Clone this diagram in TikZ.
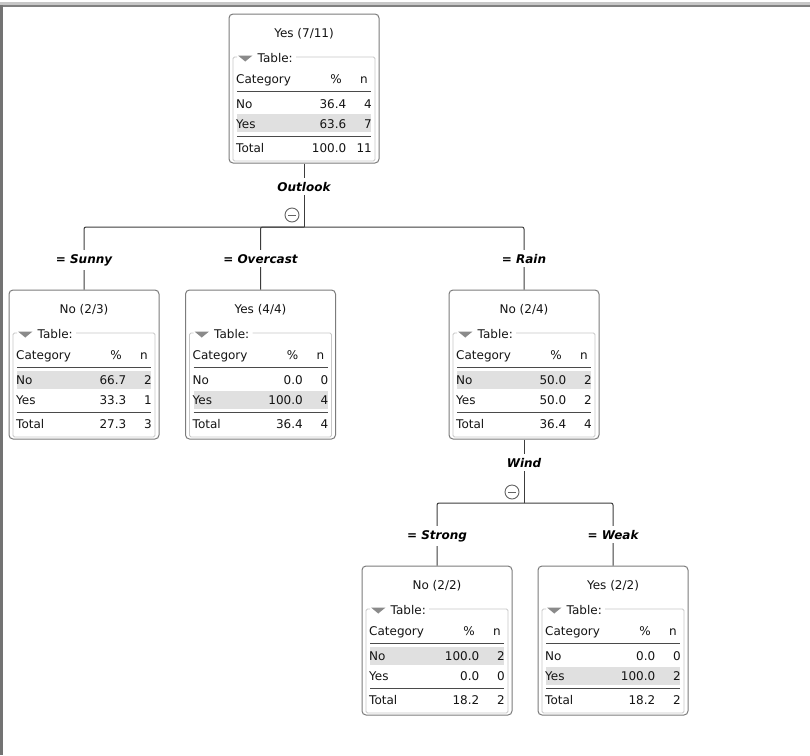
\documentclass[tikz,border=0pt]{standalone}
\usepackage{fontspec}
\setmainfont{DejaVu Sans}
\definecolor{boxgray}{HTML}{7C7C7C}
\definecolor{grpgray}{HTML}{C8C8C8}
\definecolor{hlgray}{HTML}{E0E0E0}
\definecolor{rulegray}{HTML}{4A4A4A}
\definecolor{linkgray}{HTML}{3C3C3C}
\definecolor{txtcol}{HTML}{141414}
\definecolor{trigray}{HTML}{8A8A8A}

% one decision-tree node: name, top-left corner, title, top of the shaded row,
% No %/n, Yes %/n, {Total %}{Total n}
\newcommand\dttot[2]{%
  \node[txt,anchor=base west] at (7,138) {Total};
  \node[txt,anchor=base east] at (117.5,138) {#1};
  \node[txt,anchor=base east] at (143,138) {#2};}
\newcommand\dtnode[9]{%
  \begin{scope}[shift={(#2)}]
    \node[box] (#1) at (75,74.5) {};
    \fill[hlgray] (8,#4) rectangle (142,#4+18);
    \node[txt,anchor=base] at (75,23) {#3};
    \draw[grp] (8,43) -- (4,43) -- (4,147) -- (146,147) -- (146,43) -- (67,43);
    \fill[trigray] (9,41.5) -- (23.5,41.5) -- (16.25,47.5) -- cycle;
    \node[txt,anchor=base west] at (28.5,48.5) {Table:};
    \node[txt,anchor=base west] at (7,69) {Category};
    \node[txt,anchor=base] at (107,69) {\%};
    \node[txt,anchor=base] at (135,69) {n};
    \draw[rulel] (8,77) -- (142,77);
    \node[txt,anchor=base west] at (7,94) {No};
    \node[txt,anchor=base east] at (117.5,94) {#5};
    \node[txt,anchor=base east] at (143,94) {#6};
    \node[txt,anchor=base west] at (7,114) {Yes};
    \node[txt,anchor=base east] at (117.5,114) {#7};
    \node[txt,anchor=base east] at (143,114) {#8};
    \draw[rulel] (8,122) -- (142,122);
    \dttot#9
  \end{scope}}

\begin{document}
\begin{tikzpicture}[x=1pt,y=-1pt,
  font=\fontsize{12}{14}\selectfont,
  box/.style={draw=boxgray,line width=1pt,rounded corners=4pt,fill=white,
    minimum width=150pt,minimum height=149pt,inner sep=0pt},
  txt/.style={inner sep=0pt,text=txtcol},
  grp/.style={draw=grpgray,line width=0.9pt,rounded corners=1.5pt},
  rulel/.style={draw=rulegray,line width=1pt},
  link/.style={draw=linkgray,line width=1pt,rounded corners=2pt},
  lab/.style={fill=white,inner xsep=2pt,inner ysep=4pt,text=black,
    font=\fontsize{12}{14}\selectfont\bfseries\itshape},
  fold/.style={draw=linkgray!80,line width=0.9pt,circle,minimum size=14pt,inner sep=0pt}]

\useasboundingbox (0,0) rectangle (810,755);
\fill[white] (0,0) rectangle (810,755);

% window frame
\fill[black!22] (0,2) rectangle (810,5);
\fill[black!50] (0,5) rectangle (810,7);
\fill[black!55] (0,5) rectangle (2.6,755);

% tree nodes
\dtnode{root}{229,14}{Yes (7/11)}{100}{36.4}{4}{63.6}{7}{{100.0}{11}}
\dtnode{sunny}{9,290}{No (2/3)}{81}{66.7}{2}{33.3}{1}{{27.3}{3}}
\dtnode{overcast}{185.5,290}{Yes (4/4)}{101}{0.0}{0}{100.0}{4}{{36.4}{4}}
\dtnode{rain}{449,290}{No (2/4)}{81}{50.0}{2}{50.0}{2}{{36.4}{4}}
\dtnode{strong}{362,566}{No (2/2)}{81}{100.0}{2}{0.0}{0}{{18.2}{2}}
\dtnode{weak}{538,566}{Yes (2/2)}{101}{0.0}{0}{100.0}{2}{{18.2}{2}}

% split on Outlook
\coordinate (j1) at (304,227);
\draw[link] (root.south) -- (j1);
\draw[link] (j1) -| (sunny.north);
\draw[link] (j1) -| (overcast.north);
\draw[link] (j1) -| (rain.north);
\node[lab,anchor=base] (outlook) at (304,191) {Outlook};
\node[fold] (fold1) at (292,215) {};
\draw[linkgray!80,line width=0.9pt] ([xshift=-4pt]fold1.center) -- ([xshift=4pt]fold1.center);
\node[lab,anchor=base] (lsunny) at (84,263) {= Sunny};
\node[lab,anchor=base] (lovercast) at (260.5,263) {= Overcast};
\node[lab,anchor=base] (lrain) at (524,263) {= Rain};

% split on Wind
\coordinate (j2) at (524,503);
\draw[link] (rain.south) -- (j2);
\draw[link] (j2) -| (strong.north);
\draw[link] (j2) -| (weak.north);
\node[lab,anchor=base] (wind) at (524,467) {Wind};
\node[fold] (fold2) at (512,492) {};
\draw[linkgray!80,line width=0.9pt] ([xshift=-4pt]fold2.center) -- ([xshift=4pt]fold2.center);
\node[lab,anchor=base] (lstrong) at (437,539) {= Strong};
\node[lab,anchor=base] (lweak) at (613,539) {= Weak};
\end{tikzpicture}
\end{document}
